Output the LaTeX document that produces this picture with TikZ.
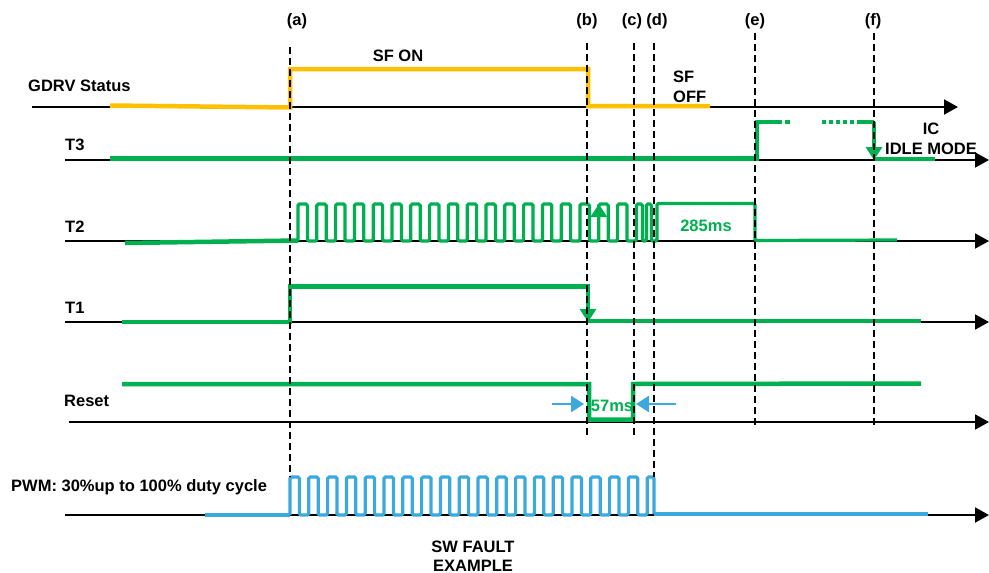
\documentclass[tikz,border=0pt]{standalone}
\usepackage{fontspec}
\setmainfont{Liberation Sans}
\usetikzlibrary{arrows.meta}
\definecolor{gdrvorange}{RGB}{255,192,0}
\definecolor{tgreen}{RGB}{0,176,80}
\definecolor{pwmblue}{RGB}{59,168,222}

\begin{document}
\begin{tikzpicture}[x=1pt, y=-1pt, font=\fontsize{16.5}{19.5}\selectfont\bfseries,
  axis/.style={line width=2pt, -{Triangle[length=14pt,width=15pt]}},
  event/.style={black, line width=2.5pt, dash pattern=on 7pt off 4pt},
  sig/.style={tgreen, line width=4.5pt},
  pulse/.style={line width=3.2pt, rounded corners=1.5pt},
  tip/.style={-{Triangle[length=13pt,width=16pt]}},
  lbl/.style={anchor=base west, inner sep=0pt}]
  \useasboundingbox (0,0) rectangle (989,573);

  \draw[axis] (32,107) -- (958,107);
  \foreach \y in {160,241,322,515}
    \draw[axis] (65,\y) -- (989,\y);
  \draw[axis] (69,422) -- (989,422);

  \draw[gdrvorange, line width=4.5pt] (110,105.5) -- (290,107.5) -- (290,69) -- (588,69) -- (588,106) -- (710,106);

  \draw[sig] (110,158.5) -- (757,158.5) -- (757,122) -- (777,122);
  \draw[sig, dash pattern=on 5pt off 3pt] (777,122) -- (791,122);
  \draw[sig, dash pattern=on 4pt off 3pt] (822,122) -- (857,122);
  \draw[sig] (857,122) -- (874,122);
  \draw[sig, tip] (874,122) -- (874,160);
  \draw[sig] (874,159) -- (935,159);

  \draw[sig] (125,243) -- (298,240.5);
  \draw[sig, pulse] (298,241) \foreach \k in {1,...,18} { -- ++(0,-37) -- ++(9.4,0) -- ++(0,37) -- ++(9.4,0) }
    -- ++(0,-37) -- ++(6,0) -- ++(0,37) -- ++(4,0) -- ++(0,-37) -- ++(5,0) -- ++(0,37)
    -- (657,241) -- (657,203.5) -- (755,203.5) -- (755,240.5) -- (897,240);
  \draw[sig, line width=3.2pt, tip] (598.8,241) -- (598.8,204);

  \draw[sig, tip] (122,322) -- (290,322) -- (290,286.5) -- (588,286.5) -- (588,322);
  \draw[sig] (588,321) -- (921,321);

  \draw[sig] (122,384) -- (589,384) -- (589,419.5) -- (633,419.5) -- (633,384) -- (921,383.5);
  \draw[pwmblue, line width=2.5pt, tip] (552,404) -- (584,404);
  \draw[pwmblue, line width=2.5pt, tip] (676,404) -- (636,404);

  \draw[pwmblue, line width=4.5pt] (205,515) -- (290,515);
  \draw[pwmblue, pulse] (290,515) \foreach \k in {1,...,19} { -- ++(0,-38) -- ++(9.4,0) -- ++(0,38) -- ++(9.4,0) }
    -- ++(0,-38) -- (654,477) -- (654,514);
  \draw[pwmblue, line width=4.5pt] (654,514) -- (928,514);

  \foreach \x/\t/\b in {290/47/477, 587/43/435, 634/43/435, 654/43/477, 755/33/425, 874/33/425}
    \draw[event] (\x,\t) -- (\x,\b);

  \foreach \x/\n in {297/a, 587/b, 632/c, 657/d, 755/e, 873/f}
    \node (ev\n) at (\x,21) {(\n)};

  \node[lbl] (gdrv) at (28,91.5) {GDRV Status};
  \node[lbl] (tthree) at (65,150.5) {T3};
  \node[lbl] (ttwo) at (65,232.5) {T2};
  \node[lbl] (tone) at (65,313) {T1};
  \node[lbl] (reset) at (64,406.5) {Reset};
  \node[lbl] (pwm) at (11,491.5) {PWM: 30\%up to 100\% duty cycle};

  \node[anchor=base, inner sep=0pt] (sfon) at (398,61.5) {SF ON};
  \node[align=left, anchor=west, inner sep=0pt] (sfoff) at (673,87) {SF\\OFF};
  \node[align=center, inner sep=0pt] (idle) at (931,139) {IC\\IDLE MODE};
  \node[align=center, inner sep=0pt] (swfault) at (473,556) {SW FAULT\\EXAMPLE};
  \node[tgreen, inner sep=0pt] (dur285) at (706,226) {285ms};
  \node[tgreen, inner sep=0pt] (dur57) at (612,406) {57ms};
\end{tikzpicture}
\end{document}
